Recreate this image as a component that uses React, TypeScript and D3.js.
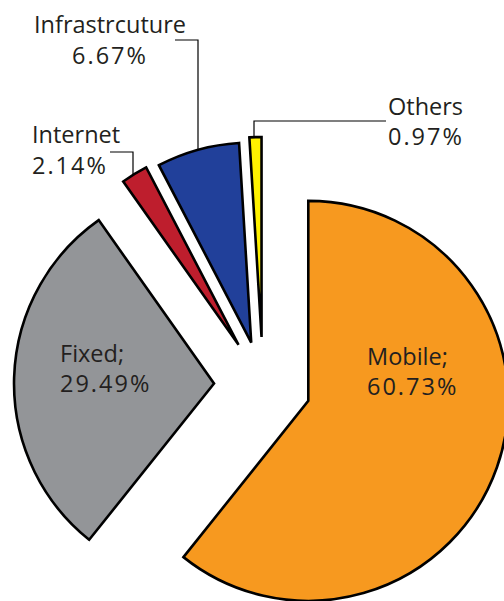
import React from "react";
import * as d3 from "d3";

const categories = ["Mobile", "Fixed", "Internet", "Infrastructure", "Others"];
const values = [60.73, 29.49, 2.14, 6.67, 0.97];
const labelLine1 = ["Mobile;", "Fixed;", "Internet", "Infrastrcuture", "Others"];
const labelLine2 = ["60.73%", "29.49%", "2.14%", "6.67%", "0.97%"];
const colors = ["#F7991F", "#939598", "#BE1E2D", "#21409A", "#FFF200"];

// layout
const W = 504;
const H = 601;
const CX = 263;
const CY = 385;
const R = 200;
const explode = [48, 49, 47, 44, 48];
const FONT = "'Open Sans', 'Noto Sans', sans-serif";
const FS = 23.5;
const TEXT = "#231F20";

type Ann = {
  x: number;
  y1: number;
  y2: number;
  anchor: "start" | "middle" | "end";
  leader?: { x0: number; y: number; x1: number };
};

const anns: Ann[] = [
  { x: 367, y1: 365, y2: 395, anchor: "start" },
  { x: 60, y1: 362, y2: 392, anchor: "start" },
  { x: 32, y1: 143, y2: 174, anchor: "start", leader: { x0: 110, y: 152, x1: 133 } },
  { x: 110, y1: 33, y2: 64, anchor: "middle", leader: { x0: 175, y: 40, x1: 198 } },
  { x: 388, y1: 115, y2: 145, anchor: "start", leader: { x0: 386, y: 121, x1: 254 } },
];

export default function App() {
  const pie = d3
    .pie<number>()
    .sort(null)
    .value((d) => d)
    .startAngle(0)
    .endAngle(2 * Math.PI);
  const arcs = pie(values);
  const arc = d3.arc<d3.PieArcDatum<number>>().innerRadius(0).outerRadius(R);

  const centers = arcs.map((a, i) => {
    const mid = (a.startAngle + a.endAngle) / 2;
    return [CX + explode[i] * Math.sin(mid), CY - explode[i] * Math.cos(mid)];
  });

  return (
    <svg
      width={W}
      height={H}
      style={{ position: "absolute", left: 0, top: 0, background: "#fff" }}
    >
      {arcs.map((a, i) => (
        <path
          key={categories[i]}
          d={arc(a) || ""}
          transform={`translate(${centers[i][0]},${centers[i][1]})`}
          fill={colors[i]}
          stroke="#000"
          strokeWidth={2.6}
          strokeLinejoin="miter"
        />
      ))}
      {anns.map((an, i) => {
        let leader = null;
        if (an.leader) {
          const [cx, cy] = centers[i];
          const dx = an.leader.x1 - cx;
          const yEnd = cy - Math.sqrt(R * R - dx * dx);
          leader = (
            <polyline
              points={`${an.leader.x0},${an.leader.y} ${an.leader.x1},${an.leader.y} ${an.leader.x1},${yEnd}`}
              fill="none"
              stroke="#000"
              strokeWidth={1.2}
            />
          );
        }
        return (
          <g key={"ann" + i}>
            {leader}
            <text
              x={an.x}
              y={an.y1}
              textAnchor={an.anchor}
              fontFamily={FONT}
              fontSize={FS}
              fill={TEXT}
            >
              {labelLine1[i]}
            </text>
            <text
              x={an.x}
              y={an.y2}
              textAnchor={an.anchor}
              fontFamily={FONT}
              fontSize={FS}
              letterSpacing={2}
              fill={TEXT}
            >
              {labelLine2[i]}
            </text>
          </g>
        );
      })}
    </svg>
  );
}
